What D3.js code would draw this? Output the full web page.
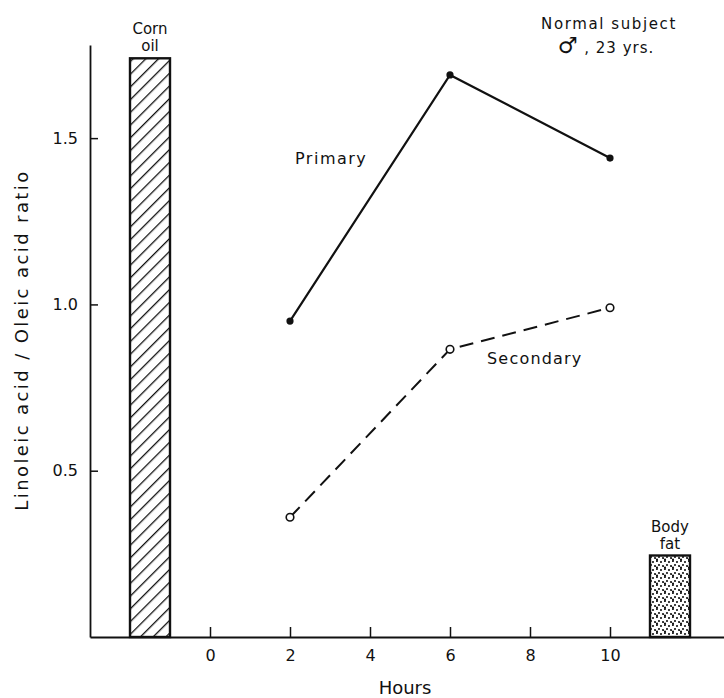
<!DOCTYPE html>
<html>
<head>
<meta charset="utf-8">
<script src="https://cdn.jsdelivr.net/npm/d3@7"></script>
<style>
  body { margin: 0; background: #fff; }
  svg text { font-family: 'DejaVu Sans', sans-serif; fill: #111; }
</style>
</head>
<body>
<svg id="chart" width="724" height="698"></svg>
<script>
// data
const hours = [2, 6, 10];
const primary = [0.95, 1.69, 1.44];
const secondary = [0.36, 0.865, 0.99];
const barLabels = ['Corn oil', 'Body fat'];
const barStart = [-2, 11];
const barEnd = [-1, 12];
const barValues = [1.74, 0.245];
const xTicks = [0, 2, 4, 6, 8, 10];
const yTicks = [0.5, 1.0, 1.5];

const svg = d3.select('#chart');
const W = +svg.attr('width');

const xScale = d3.scaleLinear().domain([-3, 12.85]).range([90, W]);
const yScale = d3.scaleLinear().domain([0, 1.78]).range([637, 45]);

const defs = svg.append('defs');
const hatch = defs.append('pattern')
  .attr('id', 'hatch')
  .attr('patternUnits', 'userSpaceOnUse')
  .attr('width', 9).attr('height', 9)
  .attr('patternTransform', 'rotate(45)');
hatch.append('line')
  .attr('x1', 0).attr('y1', 0).attr('x2', 0).attr('y2', 9)
  .attr('stroke', '#111').attr('stroke-width', 2.6);

const dots = defs.append('pattern')
  .attr('id', 'dots')
  .attr('patternUnits', 'userSpaceOnUse')
  .attr('width', 8).attr('height', 8);
[[1, 1], [5, 2], [3, 5], [7, 6], [1, 7.5]].forEach(([cx, cy]) => {
  dots.append('circle').attr('cx', cx).attr('cy', cy).attr('r', 1.05).attr('fill', '#111');
});

// axes
const xAxis = d3.axisBottom(xScale)
  .tickValues(xTicks)
  .tickSizeInner(-10)
  .tickSizeOuter(0)
  .tickPadding(13)
  .tickFormat(d3.format('d'));
const xAxisSel = svg.append('g')
  .attr('transform', `translate(0, ${yScale(0)})`)
  .call(xAxis);
xAxisSel.selectAll('text').style('font-size', '16px');

const yAxis = d3.axisLeft(yScale)
  .tickValues(yTicks)
  .tickSizeInner(-8)
  .tickSizeOuter(0)
  .tickPadding(12)
  .tickFormat(d3.format('.1f'));
const yAxisSel = svg.append('g')
  .attr('transform', `translate(${xScale(-3)}, 0)`)
  .call(yAxis);
yAxisSel.selectAll('text').style('font-size', '16px');

svg.selectAll('.domain').attr('stroke', '#111').attr('stroke-width', 1.8);
svg.selectAll('.tick line').attr('stroke', '#111').attr('stroke-width', 1.5);

// bars
const bars = barLabels.map((label, i) => ({
  label, x0: barStart[i], x1: barEnd[i], v: barValues[i],
  fill: i === 0 ? 'url(#hatch)' : 'url(#dots)'
}));

svg.selectAll('rect.bar')
  .data(bars)
  .enter()
  .append('rect')
    .attr('class', 'bar')
    .attr('x', d => xScale(d.x0))
    .attr('width', d => xScale(d.x1) - xScale(d.x0))
    .attr('y', d => yScale(d.v))
    .attr('height', d => yScale(0) - yScale(d.v))
    .attr('fill', d => d.fill)
    .attr('stroke', '#111')
    .attr('stroke-width', 2.4);

bars.forEach(d => {
  const words = d.label.split(' ');
  const cx = (xScale(d.x0) + xScale(d.x1)) / 2;
  const top = yScale(d.v);
  svg.append('text')
    .attr('x', cx).attr('y', top - 24)
    .attr('text-anchor', 'middle')
    .style('font-size', '15px')
    .text(words[0]);
  svg.append('text')
    .attr('x', cx).attr('y', top - 7)
    .attr('text-anchor', 'middle')
    .style('font-size', '15px')
    .text(words[1]);
});

// lines
const lineGen = d3.line()
  .x(d => xScale(d.h))
  .y(d => yScale(d.v));

const primaryPts = hours.map((h, i) => ({ h, v: primary[i] }));
const secondaryPts = hours.map((h, i) => ({ h, v: secondary[i] }));

svg.append('path')
  .attr('d', lineGen(primaryPts))
  .attr('fill', 'none')
  .attr('stroke', '#111')
  .attr('stroke-width', 2.2);

svg.append('path')
  .attr('d', lineGen(secondaryPts))
  .attr('fill', 'none')
  .attr('stroke', '#111')
  .attr('stroke-width', 2)
  .attr('stroke-dasharray', '14, 8');

svg.selectAll('circle.primary')
  .data(primaryPts)
  .enter()
  .append('circle')
    .attr('class', 'primary')
    .attr('cx', d => xScale(d.h))
    .attr('cy', d => yScale(d.v))
    .attr('r', 3.6)
    .attr('fill', '#111');

svg.selectAll('circle.secondary')
  .data(secondaryPts)
  .enter()
  .append('circle')
    .attr('class', 'secondary')
    .attr('cx', d => xScale(d.h))
    .attr('cy', d => yScale(d.v))
    .attr('r', 3.8)
    .attr('fill', '#fff')
    .attr('stroke', '#111')
    .attr('stroke-width', 1.6);

// series labels
svg.append('text')
  .attr('x', 295).attr('y', 164)
  .style('font-size', '16px')
  .style('letter-spacing', '1.5px')
  .text('Primary');

svg.append('text')
  .attr('x', 487).attr('y', 364)
  .style('font-size', '16px')
  .style('letter-spacing', '1.2px')
  .text('Secondary');

// subject note
svg.append('text')
  .attr('x', 609).attr('y', 29)
  .attr('text-anchor', 'middle')
  .style('font-size', '15px')
  .style('letter-spacing', '1.6px')
  .text('Normal subject');
const note = svg.append('text')
  .attr('x', 606).attr('y', 53)
  .attr('text-anchor', 'middle')
  .style('font-size', '15px')
  .style('letter-spacing', '1px');
note.append('tspan').style('font-size', '22px').text('\u2642');
note.append('tspan').text(' , 23 yrs.');

// axis titles
svg.append('text')
  .attr('x', 405).attr('y', 694)
  .attr('text-anchor', 'middle')
  .style('font-size', '18px')
  .text('Hours');

svg.append('text')
  .attr('transform', `translate(28, 340) rotate(-90)`)
  .attr('text-anchor', 'middle')
  .style('font-size', '18px')
  .style('letter-spacing', '2.4px')
  .text('Linoleic acid / Oleic acid ratio');
</script>
</body>
</html>
